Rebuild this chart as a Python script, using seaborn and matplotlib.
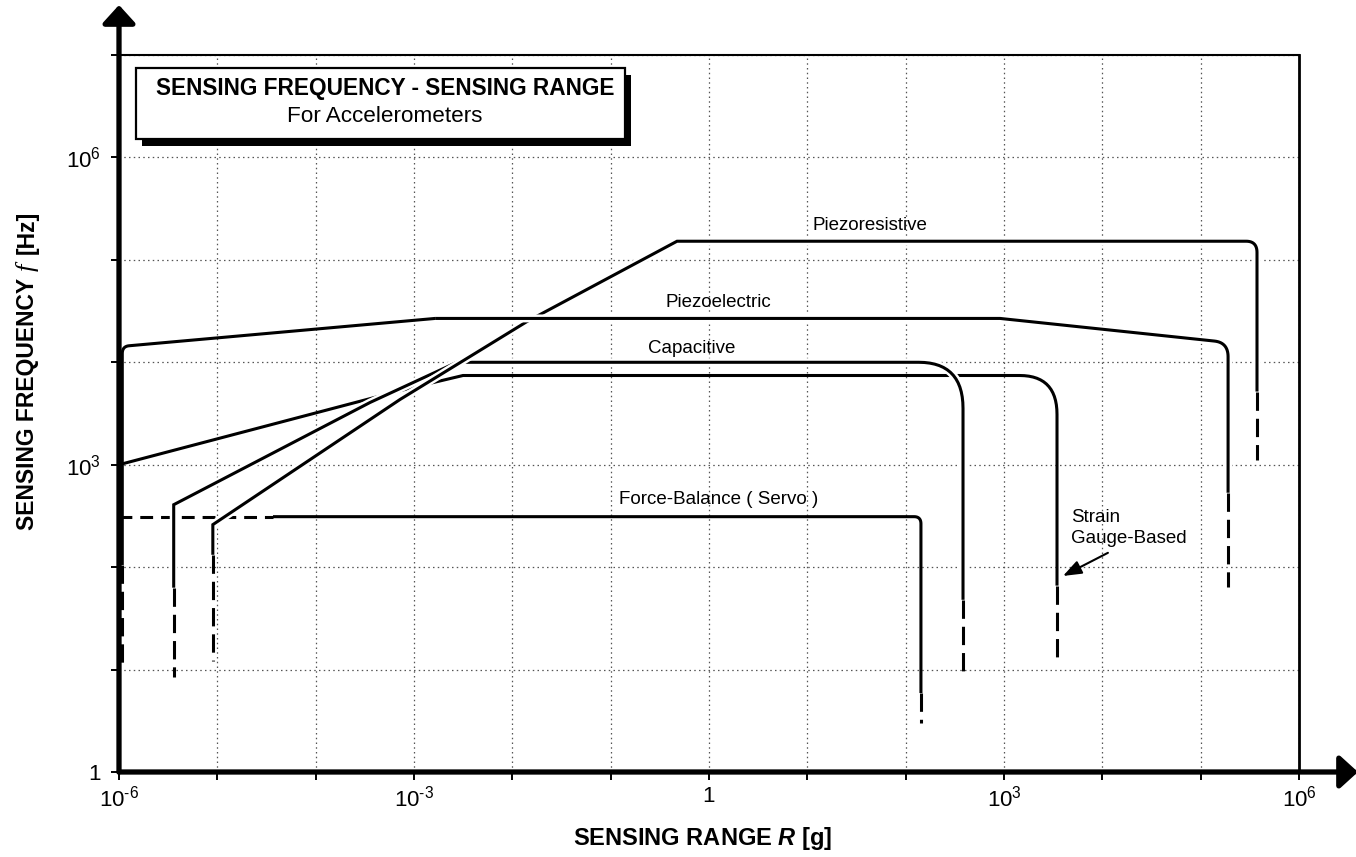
import numpy as np
import matplotlib
matplotlib.use("Agg")
import matplotlib.pyplot as plt
import matplotlib.patheffects as pe
from matplotlib.patches import Rectangle
from matplotlib.ticker import NullLocator
import seaborn as sns

# ---------------------------------------------------------------
# Sensing range R [g] versus sensing frequency f [Hz]
# ---------------------------------------------------------------
# Piezoresistive
piezoresistive_R = [9e-6, 9e-6, 7.2e-4, 1.41e-2, 0.473, 3.74e5, 3.74e5]
piezoresistive_f = [132, 260, 4.33e3, 2.5e4, 1.52e5, 1.52e5, 5.18e3]
piezoresistive_low_f = [132, 12]        # uncertain lower edge (dashed)
piezoresistive_high_f = [5.18e3, 1.1e3]  # uncertain upper edge (dashed)

# Piezoelectric
piezoelectric_R = [1.08e-6, 1.08e-6, 1.64e-3, 912, 1.9e5, 1.9e5]
piezoelectric_f = [105, 1.43e4, 2.68e4, 2.68e4, 1.56e4, 534]
piezoelectric_low_f = [105, 11.6]
piezoelectric_high_f = [534, 64]

# Capacitive
capacitive_R = [3.6e-6, 3.6e-6, 3.57e-4, 2.73e-3, 383, 383]
capacitive_f = [63, 407, 4.05e3, 1e4, 1e4, 48]
capacitive_low_f = [63, 8.5]
capacitive_high_f = [48, 8.5]

# Strain gauge-based
strain_R = [1e-6, 9.6e-4, 3.15e-3, 3460, 3460]
strain_f = [1e3, 5.67e3, 7.43e3, 7.43e3, 66]
strain_high_f = [66, 12]

# Force-balance (servo)
servo_R = [3.68e-5, 143, 143]
servo_f = [311, 311, 5.9]
servo_low_R = [1e-6, 3.68e-5]
servo_high_f = [5.9, 3.0]

# Axis ticks
x_exponents = list(range(-6, 7))
y_exponents = list(range(0, 8))
x_tick_labels = {-6: r"$10^{\text{-6}}$", -3: r"$10^{\text{-3}}$", 0: "1",
                 3: r"$10^{3}$", 6: r"$10^{6}$"}
y_tick_labels = {0: "1", 3: r"$10^{3}$", 6: r"$10^{6}$"}

# ---------------------------------------------------------------
sns.set_theme(style="white")
plt.rcParams["font.family"] = ["Liberation Sans", "DejaVu Sans"]
plt.rcParams["mathtext.fontset"] = "custom"
plt.rcParams["mathtext.rm"] = "Liberation Sans"
plt.rcParams["mathtext.it"] = "Liberation Serif:italic"
plt.rcParams["mathtext.bf"] = "Liberation Sans:bold:italic"
plt.rcParams["mathtext.default"] = "regular"
plt.rcParams["axes.unicode_minus"] = False
for key in ("text.color", "axes.labelcolor", "xtick.color", "ytick.color"):
    plt.rcParams[key] = "black"

W, H, DPI = 1356, 857, 100
fig = plt.figure(figsize=(W / DPI, H / DPI), dpi=DPI, facecolor="white")
L, R_, B, T = 119, 1299, 772, 55
ax = fig.add_axes([L / W, 1 - B / H, (R_ - L) / W, (B - T) / H])
ax.set_xscale("log")
ax.set_yscale("log")

LW = 2.2
SOLID = "-"
LONG_DASH = (0, (6.0, 2.6))
SHORT_DASH = (0, (4.2, 2.6))
HALO = [pe.Stroke(linewidth=LW + 3.5, foreground="white"), pe.Normal()]


def rounded(xs, ys, radii):
    """Fillet selected vertices of a polyline (radius in decades)."""
    lx, ly = np.log10(xs), np.log10(ys)
    ox, oy = [lx[0]], [ly[0]]
    for i in range(1, len(lx) - 1):
        r = radii.get(i, 0.0)
        p = np.array([lx[i], ly[i]])
        if r <= 0:
            ox.append(p[0]); oy.append(p[1]); continue
        a = np.array([lx[i - 1], ly[i - 1]])
        b = np.array([lx[i + 1], ly[i + 1]])
        p1 = p + r * (a - p) / np.linalg.norm(a - p)
        p2 = p + r * (b - p) / np.linalg.norm(b - p)
        t = np.linspace(0, 1, 16)[:, None]
        q = (1 - t) ** 2 * p1 + 2 * (1 - t) * t * p + t ** 2 * p2
        ox.extend(q[:, 0]); oy.extend(q[:, 1])
    ox.append(lx[-1]); oy.append(ly[-1])
    return 10 ** np.array(ox), 10 ** np.array(oy)


def draw(xs, ys, z, ls=SOLID, halo=False):
    kw = dict(color="black", linewidth=LW, zorder=z, linestyle=ls,
              solid_capstyle="butt", dash_capstyle="butt", solid_joinstyle="miter")
    if halo:
        kw["path_effects"] = HALO
    sns.lineplot(x=np.asarray(xs, float), y=np.asarray(ys, float), sort=False,
                 estimator=None, ax=ax, legend=False, **kw)


# strain gauge-based (drawn first so crossing curves cut through it)
x, y = rounded(strain_R, strain_f, {3: 0.38})
draw(x, y, 3)
draw([strain_R[-1]] * 2, strain_high_f, 3, LONG_DASH)

# force-balance
draw(servo_low_R, [servo_f[0]] * 2, 3, SHORT_DASH)
x, y = rounded(servo_R, servo_f, {1: 0.07})
draw(x, y, 3)
draw([servo_R[-1]] * 2, servo_high_f, 3, LONG_DASH)

# capacitive
x, y = rounded(capacitive_R, capacitive_f, {4: 0.45})
draw(x, y, 4, halo=True)
draw([capacitive_R[0]] * 2, capacitive_low_f, 4, LONG_DASH)
draw([capacitive_R[-1]] * 2, capacitive_high_f, 4, LONG_DASH)

# piezoresistive
x, y = rounded(piezoresistive_R, piezoresistive_f, {5: 0.11})
draw(x, y, 5, halo=True)
draw([piezoresistive_R[0]] * 2, piezoresistive_low_f, 5, LONG_DASH)
draw([piezoresistive_R[-1]] * 2, piezoresistive_high_f, 5, LONG_DASH)

# piezoelectric: the part near the vertical axis is drawn plainly,
# the rest with a white halo so it cuts across the curves below it
x, y = rounded(piezoelectric_R, piezoelectric_f, {1: 0.07, 4: 0.14})
draw(x, y, 6)
far = x >= 1e-4
draw(x[far], y[far], 6, halo=True)
draw([piezoelectric_R[0]] * 2, piezoelectric_low_f, 6, LONG_DASH)
draw([piezoelectric_R[-1]] * 2, piezoelectric_high_f, 6, LONG_DASH)

# ---- axes, ticks, grid ----
ax.set_xlim(1e-6, 1e6)
ax.set_ylim(1, 1e7)
ax.set_xlabel("")
ax.set_ylabel("")
ax.set_xticks([10.0 ** k for k in x_exponents])
ax.set_xticklabels([x_tick_labels.get(k, "") for k in x_exponents])
ax.set_yticks([10.0 ** k for k in y_exponents])
ax.set_yticklabels([y_tick_labels.get(k, "") for k in y_exponents])
ax.xaxis.set_minor_locator(NullLocator())
ax.yaxis.set_minor_locator(NullLocator())
ax.tick_params(axis="both", which="major", direction="out", length=6, width=1.4,
               labelsize=16, bottom=True, left=True, top=False, right=False)
ax.tick_params(axis="x", pad=4)
ax.tick_params(axis="y", pad=7)
ax.grid(True, which="major", color="#555555", linestyle=(0, (1.2, 2.6)), linewidth=0.9)
ax.set_axisbelow(True)

for side in ("left", "bottom"):
    ax.spines[side].set_visible(False)
ax.spines["top"].set_linewidth(1.5)
ax.spines["right"].set_linewidth(2.0)
for side in ("top", "right"):
    ax.spines[side].set_color("black")

# heavy axes with arrowheads
arrow_kw = dict(arrowstyle="-|>,head_length=0.55,head_width=0.5", lw=3.8,
                color="black", shrinkA=0, shrinkB=0, mutation_scale=20)
ax.annotate("", xy=(0, (B - 5) / (B - T)), xytext=(0, 0), xycoords="axes fraction",
            textcoords="axes fraction", arrowprops=arrow_kw, annotation_clip=False, zorder=10)
ax.annotate("", xy=((W + 2 - L) / (R_ - L), 0), xytext=(0, 0), xycoords="axes fraction",
            textcoords="axes fraction", arrowprops=arrow_kw, annotation_clip=False, zorder=10)

# ---- curve labels ----
lab = dict(fontsize=13.5, ha="center", va="center", zorder=8)
ax.text(43.4, 2.17e5, "Piezoresistive", **lab)
ax.text(1.24, 3.84e4, "Piezoelectric", **lab)
ax.text(0.67, 1.36e4, "Capacitive", **lab)
ax.text(1.26, 456, "Force-Balance ( Servo )", **lab)
ax.text(4800, 240, "Strain\nGauge-Based", fontsize=13.5, ha="left", va="center",
        linespacing=1.32, zorder=8)
ax.annotate("", xy=(3980, 82), xytext=(1.14e4, 138),
            arrowprops=dict(arrowstyle="-|>,head_length=0.8,head_width=0.3", lw=1.5,
                            color="black", shrinkA=0, shrinkB=0, mutation_scale=14),
            zorder=8)

# ---- title box with drop shadow ----
bx0, by0, bx1, by1 = 136, 68, 625, 139
fig.add_artist(Rectangle(((bx0 + 6) / W, 1 - (by1 + 7) / H), (bx1 - bx0) / W, (by1 - by0) / H,
                         transform=fig.transFigure, facecolor="black", edgecolor="none", zorder=20))
fig.add_artist(Rectangle((bx0 / W, 1 - by1 / H), (bx1 - bx0) / W, (by1 - by0) / H,
                         transform=fig.transFigure, facecolor="white", edgecolor="black",
                         linewidth=1.6, zorder=21))
fig.text(385 / W, 1 - 89 / H, "SENSING FREQUENCY - SENSING RANGE", fontsize=16.3,
         fontweight="bold", ha="center", va="center", zorder=22)
fig.text(385 / W, 1 - 117 / H, "For Accelerometers", fontsize=16.2,
         ha="center", va="center", zorder=22)

# ---- axis titles ----
fig.text(703 / W, 1 - 838 / H, r"SENSING RANGE $\mathbf{R}$ [g]", fontsize=17,
         fontweight="bold", ha="center", va="center")

# vertical title assembled from pieces so the italic serif f can be larger
renderer = fig.canvas.get_renderer()
y_base_x = 34          # baseline position (pixels from left)
y_pos = H - 530        # start (pixels from bottom)
pieces = [("SENSING FREQUENCY", dict(fontsize=16.5, fontweight="bold"), 7),
          ("f", dict(fontsize=19, family="Liberation Serif", style="italic"), 10),
          ("[Hz]", dict(fontsize=16.5, fontweight="bold"), 0)]
for text, props, gap in pieces:
    t = fig.text(y_base_x / W, y_pos / H, text, rotation=90, rotation_mode="anchor",
                 ha="left", va="baseline", **props)
    y_pos += t.get_window_extent(renderer).height + gap

fig.savefig("out.png", dpi=DPI, facecolor="white")
